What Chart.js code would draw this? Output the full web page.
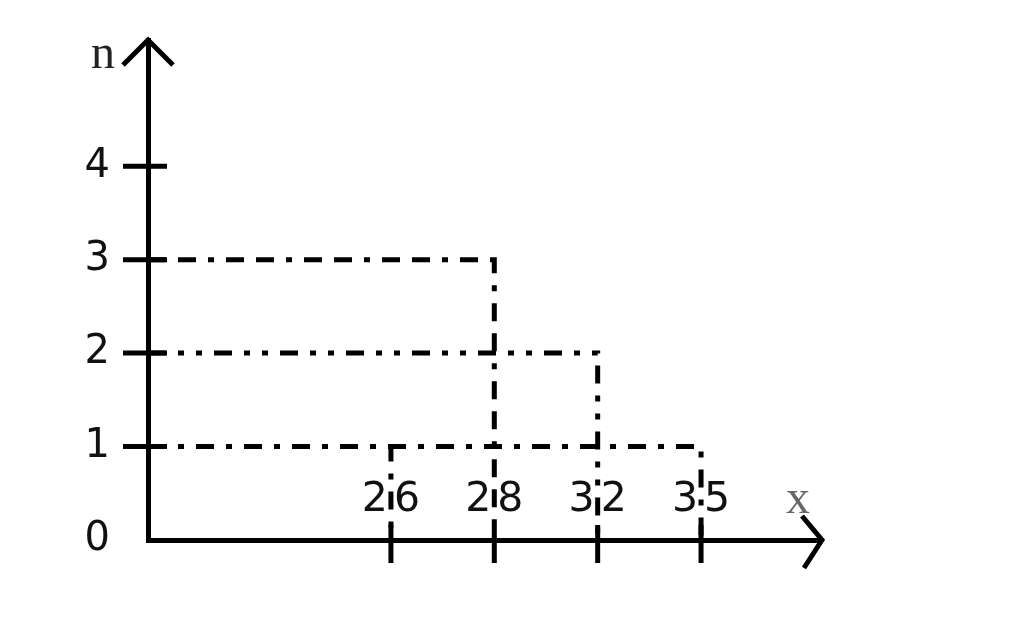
<!DOCTYPE html>
<html>
<head>
<meta charset="utf-8">
<script src="https://cdn.jsdelivr.net/npm/chart.js@4.4.1/dist/chart.umd.min.js"></script>
<style>
html, body { margin: 0; padding: 0; background: #fff; }
#wrap { width: 1024px; height: 628px; }
</style>
</head>
<body>
<div id="wrap"><canvas id="freqChart" width="1024" height="628"></canvas></div>
<script>
// values of x and their frequencies n
const xValues = [26, 28, 32, 35];
const nValues = [1, 3, 2, 1];
const yTicks = [0, 1, 2, 3, 4];

// axis ranges (x is placed by rank, the sketch is not to scale)
const xMin = -2.35, xMax = 4.17;
const yMin = 0, yMax = 5.35;

// dash-dot patterns, one per point
const dashes = [
	[18, 12, 6, 12],
	[18, 12, 18, 12, 6, 12],
	[18, 12, 6, 12, 6, 12],
	[18, 12, 6, 12]
];

Chart.defaults.font.family = '"DejaVu Sans", Verdana, sans-serif';

// each point: horizontal from the n axis, then down to the x axis
const datasets = xValues.map((v, i) => ({
	label: 'x = ' + v,
	data: [
		{ x: xMin, y: nValues[i] },
		{ x: i, y: nValues[i] },
		{ x: i, y: yMin }
	],
	borderColor: '#000',
	borderWidth: 5,
	borderDash: dashes[i],
	borderCapStyle: 'butt',
	pointRadius: 0,
	fill: false,
	tension: 0
}));

// arrows, tick marks, x labels and axis names
const axisDecor = {
	id: 'axisDecor',
	afterDraw(chart) {
		const { ctx, chartArea: a, scales: { x, y } } = chart;
		ctx.save();
		ctx.strokeStyle = '#000';
		ctx.lineWidth = 5;
		ctx.lineJoin = 'miter';
		ctx.lineCap = 'butt';

		ctx.beginPath();
		ctx.moveTo(a.left - 25, a.top + 25);
		ctx.lineTo(a.left, a.top);
		ctx.lineTo(a.left + 25, a.top + 25);
		ctx.moveTo(a.right - 20, a.bottom - 24);
		ctx.lineTo(a.right, a.bottom);
		ctx.lineTo(a.right - 18, a.bottom + 28);
		ctx.stroke();

		ctx.beginPath();
		yTicks.forEach(v => {
			if (v === 0) return;
			const py = y.getPixelForValue(v);
			ctx.moveTo(a.left - 25, py);
			ctx.lineTo(a.left + 19, py);
		});
		xValues.forEach((v, i) => {
			const px = x.getPixelForValue(i);
			ctx.moveTo(px, a.bottom - 15);
			ctx.lineTo(px, a.bottom + 23);
		});
		ctx.stroke();

		// x values sit above the axis, split by the drop line
		ctx.font = '41px "DejaVu Sans", Verdana, sans-serif';
		ctx.fillStyle = '#111';
		ctx.textAlign = 'center';
		ctx.textBaseline = 'middle';
		ctx.letterSpacing = '6px';
		xValues.forEach((v, i) => {
			ctx.fillText(String(v), x.getPixelForValue(i) + 3, a.bottom - 40);
		});
		ctx.letterSpacing = '0px';

		ctx.font = '48px "Liberation Serif", serif';
		ctx.textBaseline = 'alphabetic';
		ctx.fillStyle = '#222';
		ctx.textAlign = 'right';
		ctx.fillText('n', a.left - 33, a.top + 28);
		ctx.fillStyle = '#666';
		ctx.textAlign = 'left';
		ctx.fillText('x', a.right - 36, a.bottom - 27);
		ctx.restore();
	}
};

const freqChart = new Chart(document.getElementById('freqChart'), {
	type: 'line',
	data: { datasets: datasets },
	plugins: [axisDecor],
	options: {
		responsive: false,
		animation: false,
		devicePixelRatio: 1,
		layout: { padding: { left: 0, top: 40, right: 202, bottom: 0 } },
		plugins: {
			legend: { display: false },
			tooltip: { enabled: false }
		},
		scales: {
			x: {
				type: 'linear',
				min: xMin,
				max: xMax,
				grid: { display: false, drawTicks: false },
				border: { display: true, color: '#000', width: 5 },
				afterFit: scale => {
					scale.height = 88;
					scale.paddingLeft = 0;
					scale.paddingRight = 0;
				},
				afterBuildTicks: scale => {
					scale.ticks = xValues.map((v, i) => ({ value: i }));
				},
				ticks: { display: false }
			},
			y: {
				type: 'linear',
				min: yMin,
				max: yMax,
				grid: { display: false, drawTicks: false },
				border: { display: true, color: '#000', width: 5 },
				afterFit: scale => {
					scale.width = 148;
					scale.paddingTop = 0;
					scale.paddingBottom = 0;
				},
				afterBuildTicks: scale => {
					scale.ticks = yTicks.map(v => ({ value: v }));
				},
				ticks: {
					padding: 38,
					color: '#111',
					font: { size: 40 }
				}
			}
		}
	}
});
</script>
</body>
</html>
